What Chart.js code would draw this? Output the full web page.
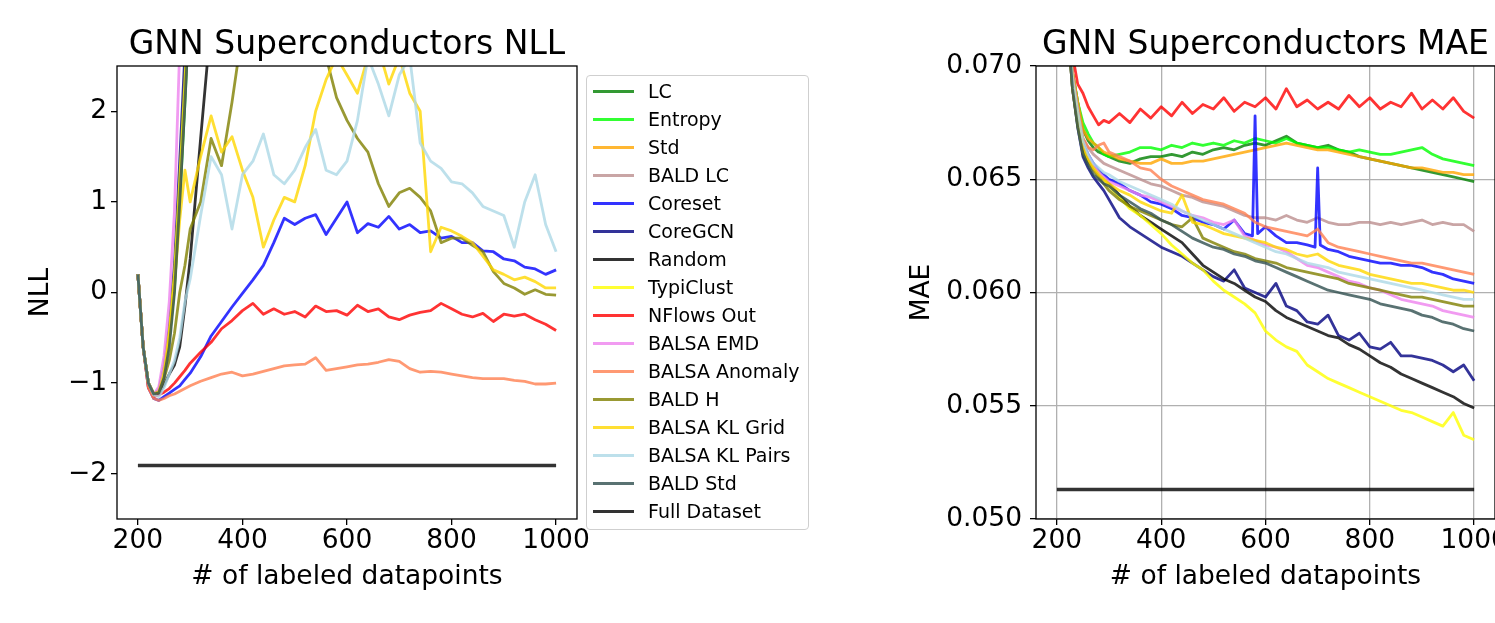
<!DOCTYPE html>
<html>
<head>
<meta charset="utf-8">
<script src="https://cdn.jsdelivr.net/npm/chart.js@4.4.1/dist/chart.umd.min.js"></script>
<style>
  body { margin: 0; background: #fff; width: 1495px; height: 623px; overflow: hidden; position: relative; font-family: 'DejaVu Sans', sans-serif; }
  #nll { position: absolute; left: 0; top: 0; }
  #mae { position: absolute; left: 880px; top: 0; }
  #legend { position: absolute; left: 586px; top: 75px; width: 221px; height: 453px; border: 1px solid #cfcfcf; border-radius: 4px; background: rgba(255,255,255,0.8); }
  .item { position: absolute; left: 0; width: 221px; height: 28px; }
  .item span.line { position: absolute; left: 6px; top: 13px; width: 41px; height: 2.8px; }
  .item span.txt { position: absolute; left: 61px; top: 0; line-height: 28px; font-size: 19px; color: #000; white-space: nowrap; }
</style>
</head>
<body>
<canvas id="nll" width="590" height="623"></canvas>
<canvas id="mae" width="615" height="623"></canvas>
<div id="legend"></div>
<script>
// data

const xs = [200,210,220,230,240,250,260,270,280,290,300,320,340,360,380,400,420,440,460,480,500,520,540,560,580,600,620,640,660,680,700,720,740,760,780,800,820,840,860,880,900,920,940,960,980,1000];
const xsCoresetMae = [200,210,220,230,240,250,260,270,280,290,300,320,340,360,380,400,420,440,460,480,500,520,540,560,575,580,585,600,620,640,660,680,695,700,705,720,740,760,780,800,820,840,860,880,900,920,940,960,980,1000];
const xsFull = [200, 1000];

const xTicks = [200, 400, 600, 800, 1000];
const nllTicks = [-2, -1, 0, 1, 2];
const maeTicks = [0.050, 0.055, 0.060, 0.065, 0.070];

const names = ['LC','Entropy','Std','BALD LC','Coreset','CoreGCN','Random','TypiClust','NFlows Out','BALSA EMD','BALSA Anomaly','BALD H','BALSA KL Grid','BALSA KL Pairs','BALD Std','Full Dataset'];
const colors = ['rgba(0,128,0,0.8)','rgba(0,255,0,0.8)','rgba(255,165,0,0.8)','rgba(188,143,143,0.8)','rgba(0,0,255,0.8)','rgba(0,0,128,0.8)','rgba(0,0,0,0.8)','rgba(255,255,0,0.8)','rgba(255,0,0,0.8)','rgba(238,130,238,0.8)','rgba(255,127,80,0.8)','rgba(128,128,0,0.8)','rgba(255,215,0,0.8)','rgba(173,216,230,0.8)','rgba(47,79,79,0.8)','rgba(0,0,0,0.8)'];

// NLL (series that leave the plot stop after their first point above it)
const nllLC = [0.2,-0.6,-1.0,-1.12,-1.1,-0.88,-0.48,0.12,1.1,2.2,3.4];
const nllEntropy = [0.2,-0.6,-1.0,-1.12,-1.1,-0.9,-0.52,0.05,1.0,2.1,3.3];
const nllStd = [0.2,-0.6,-1.0,-1.12,-1.09,-0.86,-0.44,0.18,1.2,2.4,3.6];
const nllBaldLC = [0.2,-0.6,-1.0,-1.12,-1.1,-0.9,-0.5,0.1,1.05,2.15,3.3];
const nllCoreset = [0.2,-0.6,-1.05,-1.17,-1.19,-1.15,-1.11,-1.07,-1.03,-0.96,-0.89,-0.71,-0.48,-0.32,-0.16,-0.01,0.14,0.3,0.55,0.82,0.75,0.82,0.86,0.64,0.82,1.0,0.66,0.76,0.72,0.84,0.7,0.75,0.66,0.68,0.6,0.62,0.55,0.55,0.46,0.45,0.37,0.35,0.28,0.26,0.2,0.25];
const nllCoreGCN = [0.2,-0.6,-1.0,-1.12,-1.08,-0.82,-0.38,0.32,1.45,2.65,4.0];
const nllRandom = [0.2,-0.6,-1.0,-1.13,-1.12,-1.02,-0.9,-0.8,-0.6,-0.15,0.37,1.7,3.0];
const nllTypiClust = [0.2,-0.6,-1.0,-1.12,-1.08,-0.84,-0.42,0.22,1.25,2.35,3.5];
const nllNFlows = [0.2,-0.6,-1.05,-1.15,-1.13,-1.1,-1.06,-1.0,-0.93,-0.86,-0.78,-0.66,-0.55,-0.4,-0.31,-0.2,-0.12,-0.24,-0.18,-0.24,-0.21,-0.27,-0.15,-0.21,-0.2,-0.25,-0.14,-0.21,-0.18,-0.27,-0.3,-0.25,-0.22,-0.2,-0.12,-0.18,-0.24,-0.27,-0.23,-0.32,-0.24,-0.26,-0.24,-0.3,-0.35,-0.42];
const nllEmd = [0.2,-0.6,-1.0,-1.13,-1.04,-0.7,-0.1,0.9,2.7,4.2];
const nllAnomaly = [0.2,-0.6,-1.05,-1.17,-1.19,-1.17,-1.14,-1.12,-1.09,-1.06,-1.03,-0.98,-0.94,-0.9,-0.88,-0.92,-0.9,-0.87,-0.84,-0.81,-0.8,-0.79,-0.72,-0.86,-0.84,-0.82,-0.8,-0.79,-0.77,-0.74,-0.76,-0.84,-0.88,-0.87,-0.88,-0.9,-0.92,-0.94,-0.95,-0.95,-0.95,-0.97,-0.98,-1.01,-1.01,-1.0];
const nllBaldH = [0.2,-0.6,-1.0,-1.12,-1.1,-0.95,-0.75,-0.45,0.0,0.3,0.7,1.0,1.7,1.4,2.1,2.9,3.2,3.4,3.5,3.5,3.4,3.2,3.0,2.6,2.15,1.9,1.7,1.55,1.2,0.95,1.1,1.15,1.05,0.9,0.55,0.6,0.6,0.52,0.45,0.23,0.1,0.05,-0.02,0.03,-0.02,-0.03];
const nllKLGrid = [0.2,-0.6,-1.0,-1.12,-1.1,-0.9,-0.5,0.1,0.8,1.35,1.0,1.5,1.95,1.55,1.72,1.35,1.05,0.5,0.8,1.05,1.0,1.4,2.0,2.35,2.6,2.4,2.2,2.6,2.7,2.3,2.6,2.2,2.0,0.45,0.72,0.68,0.62,0.55,0.4,0.25,0.2,0.14,0.17,0.12,0.05,0.05];
const nllKLPairs = [0.2,-0.6,-1.0,-1.13,-1.15,-1.05,-0.9,-0.75,-0.5,-0.1,0.15,0.85,1.5,1.3,0.7,1.3,1.45,1.75,1.3,1.2,1.35,1.6,1.8,1.35,1.3,1.45,1.9,2.6,2.3,1.95,2.4,2.6,1.65,1.45,1.37,1.22,1.2,1.1,0.95,0.9,0.85,0.5,1.0,1.3,0.75,0.45];
const nllBaldStd = [0.2,-0.6,-1.0,-1.12,-1.11,-0.94,-0.6,0.0,1.0,2.1,3.3];
const nllFull = [-1.91, -1.91];

// MAE
const maeLC = [0.082,0.076,0.072,0.0697,0.0684,0.0672,0.0667,0.0664,0.0662,0.0661,0.066,0.0658,0.0657,0.0659,0.066,0.066,0.0661,0.066,0.0662,0.0661,0.0663,0.0664,0.0663,0.0665,0.0666,0.0665,0.0667,0.0669,0.0666,0.0665,0.0664,0.0665,0.0663,0.0662,0.066,0.0659,0.0658,0.0657,0.0656,0.0655,0.0654,0.0653,0.0652,0.0651,0.065,0.0649];
const maeEntropy = [0.082,0.076,0.072,0.0697,0.0684,0.0675,0.067,0.0666,0.0664,0.0661,0.066,0.0661,0.0662,0.0664,0.0664,0.0663,0.0665,0.0664,0.0666,0.0665,0.0666,0.0665,0.0667,0.0666,0.0668,0.0667,0.0666,0.0668,0.0666,0.0665,0.0664,0.0664,0.0663,0.0662,0.0663,0.0662,0.0661,0.0661,0.0662,0.0663,0.0664,0.0661,0.0659,0.0658,0.0657,0.0656];
const maeStd = [0.082,0.076,0.072,0.0697,0.0684,0.0672,0.0668,0.0666,0.0664,0.0662,0.0661,0.0659,0.0658,0.0657,0.0657,0.0659,0.0657,0.0657,0.0658,0.0658,0.0659,0.066,0.0661,0.0662,0.0663,0.0664,0.0665,0.0666,0.0665,0.0664,0.0663,0.0663,0.0662,0.0661,0.066,0.0659,0.0658,0.0657,0.0656,0.0655,0.0655,0.0654,0.0653,0.0653,0.0652,0.0652];
const maeBaldLC = [0.082,0.076,0.072,0.0696,0.068,0.0668,0.0664,0.0661,0.0659,0.0657,0.0656,0.0654,0.0652,0.065,0.0648,0.0647,0.0645,0.0643,0.0642,0.064,0.0639,0.0638,0.0636,0.0634,0.0633,0.0633,0.0632,0.0634,0.0632,0.0631,0.0633,0.0631,0.063,0.063,0.0631,0.0631,0.063,0.0631,0.063,0.0631,0.0632,0.063,0.0631,0.063,0.063,0.0627];
const maeCoreset = [0.082,0.076,0.072,0.0695,0.068,0.0666,0.0661,0.0657,0.0654,0.0652,0.065,0.0648,0.0645,0.0643,0.064,0.0639,0.0637,0.0634,0.0633,0.0631,0.063,0.0628,0.0632,0.0626,0.0625,0.0678,0.0626,0.0629,0.0625,0.0622,0.0622,0.0621,0.062,0.0655,0.0621,0.0619,0.0618,0.0616,0.0615,0.0614,0.0613,0.0613,0.0612,0.0612,0.0611,0.0609,0.0608,0.0606,0.0605,0.0604];
const maeCoreGCN = [0.082,0.076,0.072,0.069,0.0673,0.066,0.0655,0.0651,0.0648,0.0645,0.0641,0.0633,0.0629,0.0626,0.0623,0.062,0.0618,0.0616,0.0613,0.061,0.0607,0.0605,0.061,0.0602,0.06,0.0598,0.0604,0.0594,0.0592,0.0587,0.0586,0.059,0.0581,0.0579,0.0582,0.0576,0.0575,0.0578,0.0572,0.0572,0.0571,0.057,0.0568,0.0565,0.0568,0.0561];
const maeRandom = [0.082,0.076,0.072,0.069,0.0674,0.0663,0.0658,0.0655,0.0652,0.065,0.0648,0.0643,0.0638,0.0634,0.0631,0.0628,0.0625,0.0622,0.0617,0.0612,0.0609,0.0606,0.0604,0.0601,0.0598,0.0596,0.0592,0.0589,0.0587,0.0585,0.0583,0.0581,0.058,0.0577,0.0575,0.0572,0.0569,0.0567,0.0564,0.0562,0.056,0.0558,0.0556,0.0554,0.0551,0.0549];
const maeTypiClust = [0.082,0.076,0.072,0.069,0.0674,0.0662,0.0658,0.0655,0.0653,0.065,0.0647,0.0642,0.0637,0.0634,0.063,0.0626,0.0621,0.0617,0.0613,0.061,0.0605,0.0601,0.0598,0.0595,0.0591,0.0583,0.0579,0.0576,0.0574,0.0568,0.0565,0.0562,0.056,0.0558,0.0556,0.0554,0.0552,0.055,0.0548,0.0547,0.0545,0.0543,0.0541,0.0547,0.0537,0.0535];
const maeNFlows = [0.085,0.078,0.074,0.0705,0.0692,0.0688,0.0682,0.0678,0.0674,0.0676,0.0675,0.0679,0.0675,0.0681,0.0677,0.0682,0.0678,0.0684,0.0679,0.0683,0.0681,0.0686,0.068,0.0684,0.0682,0.0686,0.0681,0.069,0.0682,0.0685,0.0681,0.0684,0.0681,0.0687,0.0682,0.0686,0.0681,0.0684,0.0682,0.0688,0.0681,0.0685,0.0681,0.0686,0.068,0.0677];
const maeEmd = [0.082,0.076,0.072,0.0693,0.0678,0.0665,0.066,0.0656,0.0653,0.0651,0.0649,0.0647,0.0645,0.0643,0.0642,0.064,0.0638,0.0636,0.0634,0.0633,0.0631,0.063,0.0632,0.0625,0.0623,0.0621,0.062,0.0618,0.0615,0.0612,0.0611,0.0609,0.0607,0.0605,0.0604,0.0602,0.0601,0.0599,0.0597,0.0596,0.0595,0.0594,0.0592,0.0591,0.059,0.0589];
const maeAnomaly = [0.082,0.076,0.072,0.0697,0.0682,0.0668,0.0664,0.0663,0.0665,0.0666,0.0662,0.066,0.0658,0.0655,0.0654,0.065,0.0647,0.0645,0.0643,0.0641,0.064,0.0639,0.0637,0.0635,0.0631,0.0629,0.0628,0.0627,0.0626,0.0625,0.0628,0.0622,0.062,0.0619,0.0618,0.0617,0.0616,0.0615,0.0614,0.0613,0.0613,0.0612,0.0611,0.061,0.0609,0.0608];
const maeBaldH = [0.082,0.076,0.072,0.0693,0.0677,0.0664,0.0658,0.0654,0.0651,0.0648,0.0645,0.0641,0.0638,0.0636,0.0634,0.0632,0.063,0.0629,0.0633,0.0624,0.0622,0.062,0.0618,0.0617,0.0615,0.0614,0.0613,0.0611,0.061,0.0609,0.0608,0.0607,0.0606,0.0604,0.0603,0.0602,0.0601,0.06,0.0599,0.0598,0.0598,0.0597,0.0596,0.0595,0.0594,0.0594];
const maeKLGrid = [0.082,0.076,0.072,0.0694,0.0678,0.0665,0.0659,0.0655,0.0652,0.065,0.0648,0.0645,0.0643,0.064,0.0638,0.0636,0.0635,0.0643,0.0631,0.063,0.0628,0.0626,0.0625,0.0624,0.0623,0.0622,0.062,0.0619,0.0617,0.0616,0.0617,0.0614,0.0612,0.0611,0.061,0.0608,0.0607,0.0606,0.0605,0.0604,0.0604,0.0603,0.0602,0.0601,0.0601,0.06];
const maeKLPairs = [0.082,0.076,0.072,0.0695,0.068,0.0667,0.0661,0.0657,0.0655,0.0653,0.0652,0.0649,0.0647,0.0645,0.0643,0.0641,0.0639,0.0636,0.0634,0.0632,0.063,0.0628,0.0626,0.0624,0.0622,0.062,0.0618,0.0617,0.0615,0.0613,0.0612,0.0611,0.0609,0.0608,0.0607,0.0606,0.0605,0.0604,0.0603,0.0602,0.0601,0.06,0.0599,0.0598,0.0597,0.0597];
const maeBaldStd = [0.082,0.076,0.072,0.069,0.0673,0.0661,0.0656,0.0652,0.065,0.0648,0.0647,0.0643,0.064,0.0637,0.0635,0.0632,0.063,0.0627,0.0624,0.0622,0.062,0.0619,0.0617,0.0616,0.0614,0.0613,0.0611,0.0609,0.0607,0.0605,0.0603,0.0601,0.06,0.0599,0.0598,0.0597,0.0595,0.0594,0.0593,0.0592,0.059,0.0589,0.0587,0.0586,0.0584,0.0583];
const maeFull = [0.0513, 0.0513];

const nllSeries = [nllLC, nllEntropy, nllStd, nllBaldLC, nllCoreset, nllCoreGCN, nllRandom, nllTypiClust, nllNFlows, nllEmd, nllAnomaly, nllBaldH, nllKLGrid, nllKLPairs, nllBaldStd, nllFull];
const maeSeries = [maeLC, maeEntropy, maeStd, maeBaldLC, maeCoreset, maeCoreGCN, maeRandom, maeTypiClust, maeNFlows, maeEmd, maeAnomaly, maeBaldH, maeKLGrid, maeKLPairs, maeBaldStd, maeFull];

// helpers

Chart.defaults.font.family = "'DejaVu Sans', sans-serif";
Chart.defaults.color = '#000';

const tickFont = { size: 26.5 };

const framePlugin = {
    id: 'frame',
    afterDraw(chart) {
        const { ctx, chartArea: a } = chart;
        ctx.save();
        ctx.strokeStyle = '#000';
        ctx.lineWidth = 1.3;
        ctx.strokeRect(a.left, a.top, a.right - a.left, a.bottom - a.top);
        ctx.restore();
    }
};

function xFor(seriesIdx, isMae) {
    if (seriesIdx === 15) return xsFull;
    if (isMae && seriesIdx === 4) return xsCoresetMae;
    return xs;
}

function buildDatasets(series, isMae) {
    return series.map((vals, i) => {
        const xArr = xFor(i, isMae);
        return {
            label: names[i],
            data: vals.map((v, k) => ({ x: xArr[k], y: v })),
            borderColor: colors[i],
            borderWidth: i === 15 ? 3.4 : 2.8,
            pointRadius: 0,
            tension: 0,
            fill: false,
            borderJoinStyle: 'round',
            order: names.length - i
        };
    });
}

function makeChart(id, opts) {
    return new Chart(document.getElementById(id), {
        type: 'line',
        data: { datasets: buildDatasets(opts.series, opts.isMae) },
        options: {
            responsive: false,
            animation: false,
            events: [],
            layout: { padding: { left: 0, right: opts.padRight, top: 0, bottom: 0 } },
            scales: {
                x: {
                    type: 'linear',
                    min: 160,
                    max: 1040,
                    afterBuildTicks: (s) => { s.ticks = xTicks.map(v => ({ value: v })); },
                    ticks: { padding: 0, font: tickFont, maxRotation: 0, autoSkip: false, callback: v => String(v) },
                    grid: { drawOnChartArea: opts.grid, color: '#b0b0b0', lineWidth: 1.3, tickColor: '#000', tickLength: 6 },
                    border: { display: false },
                    title: { display: true, text: '# of labeled datapoints', font: { size: 26.5 }, padding: { top: 0, bottom: 30 } },
                    afterFit: (s) => { s.height = 104; s.paddingLeft = 0; s.paddingRight = 0; }
                },
                y: {
                    type: 'linear',
                    min: opts.yMin,
                    max: opts.yMax,
                    afterBuildTicks: (s) => { s.ticks = opts.yTicks.map(v => ({ value: v })); },
                    ticks: { padding: opts.yPad, font: tickFont, autoSkip: false, callback: opts.yFormat },
                    grid: { drawOnChartArea: opts.grid, color: '#b0b0b0', lineWidth: 1.3, tickColor: '#000', tickLength: 6 },
                    border: { display: false },
                    title: { display: true, text: opts.yLabel, font: { size: 26.5 }, padding: { top: opts.yTitlePad, bottom: 0 } },
                    afterFit: (s) => { s.width = opts.yWidth; s.paddingTop = 0; s.paddingBottom = 0; }
                }
            },
            plugins: {
                legend: { display: false },
                tooltip: { enabled: false },
                title: {
                    display: true,
                    text: opts.title,
                    fullSize: false,
                    color: '#000',
                    font: { size: 33, weight: 'normal' },
                    padding: { top: 26, bottom: 0.4 }
                }
            }
        },
        plugins: [framePlugin]
    });
}

makeChart('nll', {
    series: nllSeries,
    isMae: false,
    padRight: 13,
    yMin: -2.5,
    yMax: 2.5,
    yTicks: nllTicks,
    yPad: 4,
    yWidth: 117,
    yTitlePad: 25,
    yLabel: 'NLL',
    yFormat: v => (v < 0 ? '\u2212' + Math.abs(v) : String(v)),
    grid: false,
    title: 'GNN Superconductors NLL'
});

makeChart('mae', {
    series: maeSeries,
    isMae: true,
    padRight: 0,
    yMin: 0.050,
    yMax: 0.070,
    yTicks: maeTicks,
    yPad: 8,
    yWidth: 156,
    yTitlePad: 26,
    yLabel: 'MAE',
    yFormat: v => v.toFixed(3),
    grid: true,
    title: 'GNN Superconductors MAE'
});

// legend

const legend = document.getElementById('legend');
names.forEach((name, i) => {
    const item = document.createElement('div');
    item.className = 'item';
    item.style.top = (1 + 28 * i) + 'px';
    const line = document.createElement('span');
    line.className = 'line';
    line.style.background = colors[i];
    if (i === 15) { line.style.height = '3.4px'; line.style.top = '12.5px'; }
    const txt = document.createElement('span');
    txt.className = 'txt';
    txt.textContent = name;
    item.appendChild(line);
    item.appendChild(txt);
    legend.appendChild(item);
});
</script>
</body>
</html>
